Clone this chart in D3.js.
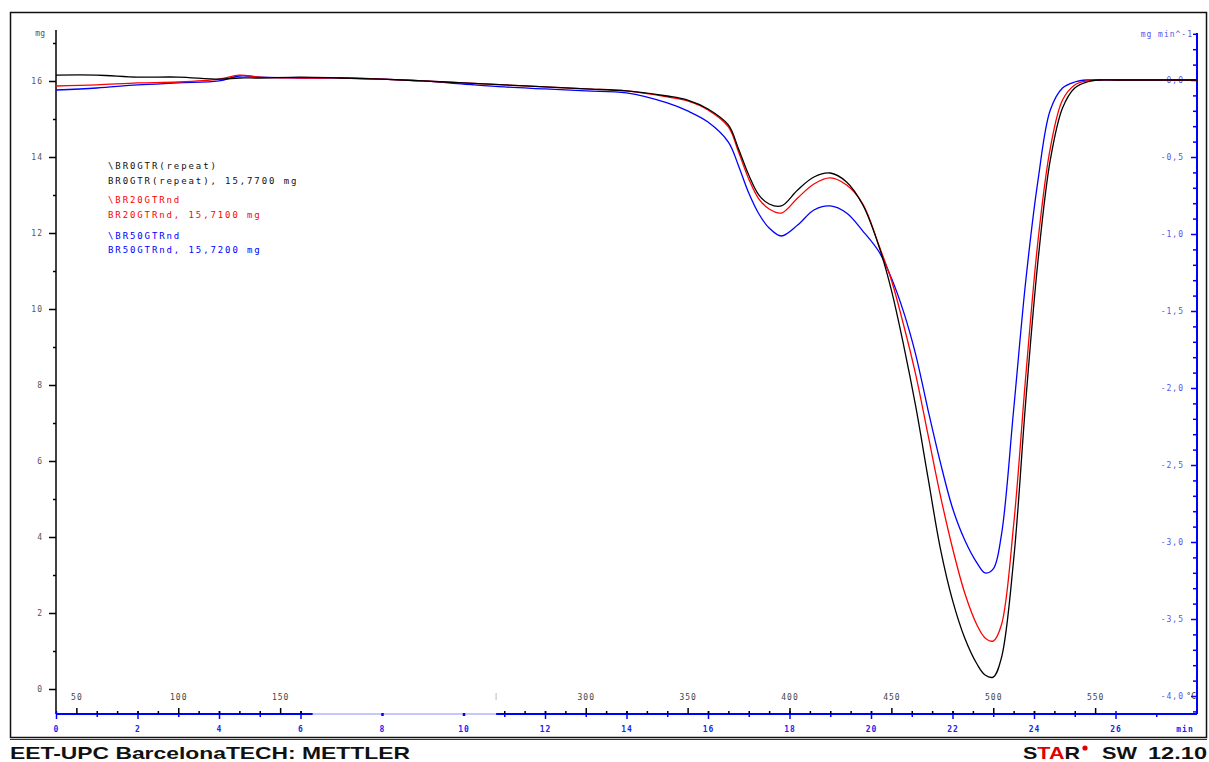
<!DOCTYPE html>
<html>
<head>
<meta charset="utf-8">
<script src="https://cdn.jsdelivr.net/npm/d3@7"></script>
<style>
  body { margin: 0; background: #fff; }
  svg { display: block; }
  .tk text { font-family: "DejaVu Sans Mono", monospace; font-size: 8px; letter-spacing: 1px; }
</style>
</head>
<body>
<svg width="1209" height="762"></svg>
<script>
// time axis in minutes, DTG values in mg/min (right axis)
var times = [0, 1, 2, 3, 4, 4.5, 5, 6, 7, 8, 9, 10, 11, 12, 13, 14,
  15, 15.5, 16, 16.5, 16.75, 17, 17.25, 17.5, 17.8, 18.2, 18.6, 19, 19.4, 19.8,
  20.2, 20.5, 20.8, 21.1, 21.4, 21.7, 22, 22.3, 22.6, 22.8, 23.0, 23.2, 23.5, 23.8,
  24.1, 24.4, 24.7, 25, 25.3, 25.6, 26, 27, 28]

var br0 = [0.032, 0.032, 0.019, 0.019, 0.006, 0.013, 0.013, 0.019, 0.013, 0.006,
  -0.006, -0.019, -0.032, -0.045, -0.058, -0.071,
  -0.104, -0.130, -0.188, -0.292, -0.448, -0.617, -0.747, -0.805, -0.818,
  -0.714, -0.630, -0.604, -0.662, -0.812,
  -1.084, -1.364, -1.721, -2.123, -2.584, -3.039, -3.377, -3.623, -3.792, -3.864,
  -3.877, -3.753, -3.117, -2.078,
  -1.169, -0.519, -0.182, -0.052, -0.013, 0, 0, 0, 0]

var br20 = [-0.039, -0.032, -0.019, -0.013, 0.006, 0.032, 0.019, 0.013, 0.013, 0.006,
  -0.006, -0.019, -0.032, -0.045, -0.058, -0.071,
  -0.110, -0.136, -0.195, -0.305, -0.468, -0.643, -0.773, -0.838, -0.864,
  -0.766, -0.675, -0.636, -0.682, -0.805,
  -1.078, -1.299, -1.591, -1.916, -2.305, -2.695, -3.039, -3.331, -3.539, -3.623,
  -3.643, -3.539, -2.890, -1.916,
  -1.039, -0.442, -0.130, -0.032, -0.006, 0, 0, 0, 0]

var br50 = [-0.065, -0.052, -0.032, -0.019, -0.006, 0.026, 0.019, 0.013, 0.013, 0.006,
  -0.006, -0.026, -0.045, -0.058, -0.071, -0.084,
  -0.149, -0.201, -0.273, -0.403, -0.558, -0.734, -0.870, -0.961, -1.013,
  -0.942, -0.844, -0.818, -0.864, -0.981,
  -1.117, -1.286, -1.506, -1.786, -2.143, -2.481, -2.779, -2.987, -3.136, -3.201,
  -3.175, -2.955, -2.143, -1.299,
  -0.649, -0.195, -0.052, -0.013, 0, 0, 0, 0, 0]

var seriesColors = ['#0000ff', '#ff0000', '#000000']
var seriesValues = [br50, br20, br0]

var legendLines = ['\\BR0GTR(repeat)', 'BR0GTR(repeat), 15,7700 mg',
  '\\BR20GTRnd', 'BR20GTRnd, 15,7100 mg',
  '\\BR50GTRnd', 'BR50GTRnd, 15,7200 mg']
var legendColors = ['#111', '#111', '#ff0000', '#ff0000', '#0000ff', '#0000ff']

var massTicks = d3.range(0, 17, 2)
var rateTicks = [0, -0.5, -1, -1.5, -2, -2.5, -3, -3.5, -4]
var timeTicks = d3.range(0, 27, 2)
var tempLabels = [50, 100, 150, 300, 350, 400, 450, 500, 550]
var gapMinutes = [6.3, 10.8]   // faded stretch of the bottom axis

var svg = d3.select('svg')

var x = d3.scaleLinear().domain([0, 28]).range([56, 1197])
var xT = d3.scaleLinear().domain([40, 600]).range([56, 1197])   // 20 K/min from 40 C
var yL = d3.scaleLinear().domain([0, 16]).range([689, 81])
var yR = d3.scaleLinear().domain([0, -4]).range([80, 696])

var comma = function (d) { return d3.format('.1f')(d).replace('.', ',').replace('\u2212', '-') }
var mono = '"DejaVu Sans Mono", monospace'
var sans = '"Liberation Sans", Arial, sans-serif'

// frame
svg.append('rect').attr('x', 10.5).attr('y', 12.5).attr('width', 1196).attr('height', 725)
  .attr('fill', 'none').attr('stroke', '#111').attr('stroke-width', 1.5)
svg.append('line').attr('x1', 10).attr('x2', 1207).attr('y1', 739.5).attr('y2', 739.5)
  .attr('stroke', '#333').attr('stroke-width', 1)

function tidy (g, color) {
  g.select('.domain').remove()
  g.attr('class', 'tk')
  g.selectAll('line').attr('stroke', color).attr('stroke-width', 1.5)
  g.selectAll('text').attr('fill', color)
}

// left axis (mg)
svg.append('line').attr('x1', 56).attr('x2', 56).attr('y1', 30).attr('y2', 714)
  .attr('stroke', '#000').attr('stroke-width', 1.5)
svg.append('g').attr('transform', 'translate(56,0)')
  .call(d3.axisLeft(yL).tickValues(massTicks).tickSize(7).tickPadding(6).tickFormat(d3.format('d')))
  .call(tidy, '#000')
  .selectAll('text').attr('fill', '#555')
svg.append('g').attr('transform', 'translate(56,0)')
  .call(d3.axisLeft(yL).tickValues(d3.range(1, 18, 2)).tickSize(3).tickFormat(''))
  .call(tidy, '#000')
svg.append('text').attr('x', 45).attr('y', 36).attr('text-anchor', 'end')
  .style('font-family', mono).style('font-size', '8px').attr('fill', '#555').text('mg')

// right axis (mg/min)
svg.append('line').attr('x1', 1197).attr('x2', 1197).attr('y1', 33).attr('y2', 714)
  .attr('stroke', '#0000ff').attr('stroke-width', 2)
svg.append('g').attr('transform', 'translate(1197,0)')
  .call(d3.axisLeft(yR).tickValues(rateTicks).tickSize(6).tickPadding(7).tickFormat(comma))
  .call(tidy, '#0000ff')
  .selectAll('text').attr('fill', '#5555ee')
svg.append('g').attr('transform', 'translate(1197,0)')
  .call(d3.axisLeft(yR).tickValues(d3.range(-41, 4).filter(function (i) { return i % 5 !== 0 })
    .map(function (i) { return i / 10 })).tickSize(4).tickFormat(''))
  .call(tidy, '#0000ff')
svg.append('text').attr('x', 1193).attr('y', 37).attr('text-anchor', 'end')
  .style('font-family', mono).style('font-size', '8px').style('letter-spacing', '1px')
  .attr('fill', '#5555ee').text('mg min^-1')
svg.append('text').attr('x', 1196).attr('y', 699).attr('text-anchor', 'end')
  .style('font-family', mono).style('font-size', '8px')
  .attr('fill', '#333').text('\u00b0C')

// bottom axis: time (blue, below) and temperature (black, above)
var inGap = function (t) { return t > gapMinutes[0] && t < gapMinutes[1] }
svg.append('line').attr('x1', x(0)).attr('x2', x(gapMinutes[0])).attr('y1', 714).attr('y2', 714)
  .attr('stroke', '#0000ff').attr('stroke-width', 2)
svg.append('line').attr('x1', x(gapMinutes[0])).attr('x2', x(gapMinutes[1])).attr('y1', 714).attr('y2', 714)
  .attr('stroke', '#8f8fff').attr('stroke-width', 1.2)
svg.append('line').attr('x1', x(gapMinutes[1])).attr('x2', x(28)).attr('y1', 714).attr('y2', 714)
  .attr('stroke', '#0000ff').attr('stroke-width', 2)

var gTime = svg.append('g').attr('transform', 'translate(0,714)')
  .call(d3.axisBottom(x).tickValues(timeTicks).tickSize(5).tickPadding(7).tickFormat(d3.format('d')))
  .call(tidy, '#0000ff')
gTime.selectAll('text').attr('fill', '#2222ee').style('font-weight', 'bold')
gTime.selectAll('.tick line').attr('y1', -3)
  .filter(function (d) { return inGap(d) }).attr('y1', -1).attr('y2', 2).attr('stroke-width', 2.5)
svg.append('g').attr('transform', 'translate(0,714)')
  .call(d3.axisBottom(x).tickValues(d3.range(1, 28, 1).filter(function (t) { return t % 2 && !inGap(t) })).tickSize(3).tickFormat(''))
  .call(tidy, '#0000ff')
svg.append('text').attr('x', x(28) - 12).attr('y', 732).attr('text-anchor', 'middle')
  .style('font-family', mono).style('font-size', '8px').style('letter-spacing', '1px')
  .style('font-weight', 'bold').attr('fill', '#2222ee').text('min')

var tempMinor = d3.range(50, 560, 10).filter(function (T) { return T % 50 && !inGap((T - 40) / 20) })
svg.append('g').attr('transform', 'translate(0,714)')
  .call(d3.axisTop(xT).tickValues(tempMinor).tickSize(3).tickFormat(''))
  .call(tidy, '#000')
svg.append('g').attr('transform', 'translate(0,714)')
  .call(d3.axisTop(xT).tickValues(tempLabels).tickSize(6).tickPadding(8).tickFormat(d3.format('d')))
  .call(tidy, '#000')
  .selectAll('text').attr('fill', '#444')
svg.append('line').attr('x1', x(gapMinutes[1])).attr('x2', x(gapMinutes[1]))
  .attr('y1', 693).attr('y2', 700).attr('stroke', '#bbb')

// curves
var line = d3.line()
  .x(function (d, i) { return x(times[i]) })
  .y(function (d) { return yR(d) })
  .curve(d3.curveCatmullRom.alpha(0.5))

svg.append('g').selectAll('path').data(seriesValues).join('path')
  .attr('d', line)
  .attr('fill', 'none')
  .attr('stroke', function (d, i) { return seriesColors[i] })
  .attr('stroke-width', 1.3)

// legend text
var legendY = [169, 184, 203, 218, 239, 253]
svg.append('g').selectAll('text').data(legendLines).join('text')
  .attr('x', 108)
  .attr('y', function (d, i) { return legendY[i] })
  .style('font-family', mono).style('font-size', '9px').style('letter-spacing', '1.9px')
  .attr('fill', function (d, i) { return legendColors[i] })
  .text(function (d) { return d })

// footer
function footer (xPos, len, txt) {
  return svg.append('text').attr('x', xPos).attr('y', 759)
    .style('font-family', sans).style('font-size', '17px')
    .style('font-weight', 'bold').attr('fill', '#111')
    .attr('textLength', len).attr('lengthAdjust', 'spacingAndGlyphs')
    .text(txt)
}
footer(10, 400, 'EET-UPC BarcelonaTECH: METTLER')

var star = footer(1023, 57, null)
star.append('tspan').text('S')
star.append('tspan').attr('fill', '#e00000').text('TA')
star.append('tspan').text('R')
svg.append('circle').attr('cx', 1085).attr('cy', 748).attr('r', 2.6).attr('fill', '#e00000')
footer(1102, 35, 'SW')
footer(1148, 59, '12.10')
</script>
</body>
</html>
